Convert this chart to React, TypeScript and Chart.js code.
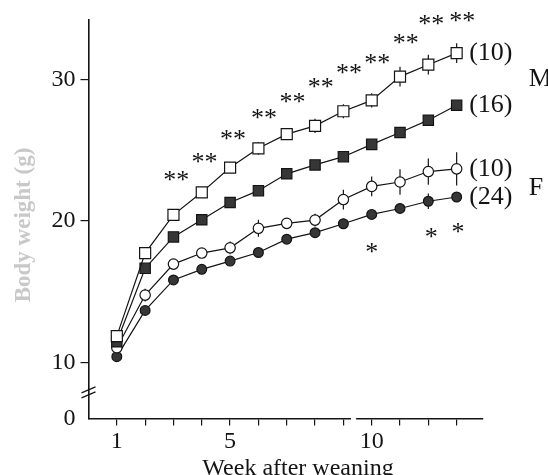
import React, { useEffect, useRef } from 'react';
import { Chart, registerables } from 'chart.js';

Chart.register(...registerables);

const weeks = [1, 2, 3, 4, 5, 6, 7, 8, 9, 10, 11, 12, 13];
const maleObese = [11.87, 17.74, 20.44, 22.03, 23.78, 25.14, 26.14, 26.73, 27.76, 28.53, 30.21, 31.05, 31.87];
const maleControl = [11.47, 16.66, 18.88, 20.09, 21.31, 22.15, 23.34, 23.97, 24.55, 25.42, 26.26, 27.13, 28.18];
const femaleObese = [11.05, 14.77, 16.96, 17.74, 18.11, 19.49, 19.84, 20.07, 21.52, 22.45, 22.76, 23.5, 23.69];
const femaleControl = [10.42, 13.69, 15.84, 16.59, 17.17, 17.78, 18.72, 19.18, 19.81, 20.47, 20.89, 21.4, 21.7];

const maleObeseSE = [0.2, 0.2, 0.2, 0.2, 0.3, 0.45, 0.4, 0.5, 0.5, 0.5, 0.7, 0.7, 0.7];
const maleControlSE = [0.2, 0.2, 0.2, 0.2, 0.2, 0.2, 0.2, 0.2, 0.2, 0.2, 0.2, 0.2, 0.2];
const femaleObeseSE = [0.2, 0.45, 0.3, 0.3, 0.45, 0.6, 0.3, 0.45, 0.7, 0.7, 0.9, 0.93, 1.17];
const femaleControlSE = [0.1, 0.1, 0.1, 0.1, 0.1, 0.1, 0.1, 0.1, 0.2, 0.2, 0.2, 0.55, 0.2];

const groupSizes = ['(10)', '(16)', '(10)', '(24)'];
const sexLabels = ['M', 'F'];
const sexLabelValues = [30.0, 22.3];

const doubleStarWeeks = [3.1, 4.1, 5.1, 6.2, 7.2, 8.2, 9.2, 10.2, 11.2, 12.1, 13.2];
const doubleStarValues = [23.1, 24.37, 26.03, 27.48, 28.6, 29.65, 30.67, 31.4, 32.78, 34.13, 34.37];
const singleStarWeeks = [10.0, 12.1, 13.05];
const singleStarValues = [18.02, 19.07, 19.46];

const yTickValues = [6.05, 10, 20, 30];
const yTickLabels = ['0', '10', '20', '30'];
const xTickValues = [1, 2, 3, 4, 5, 6, 7, 8, 9, 10, 11, 12, 13];
const xLabelledWeeks = [1, 5, 10];
const xAxisGap = [9.27, 9.45];
const yBreakValue = 7.9;

const xTitle = 'Week after weaning';
const yTitle = 'Body weight (g)';

const INK = '#141414';
const FILL = '#363636';
const SERIF = "'Liberation Serif', 'DejaVu Serif', serif";

export default function App() {
  const ref = useRef<HTMLCanvasElement | null>(null);

  useEffect(() => {
    if (!ref.current) return;
    const series = [
      { values: maleObese, se: maleObeseSE, style: 'rect', fill: '#ffffff', r: 7.8 },
      { values: maleControl, se: maleControlSE, style: 'rect', fill: FILL, r: 7.3 },
      { values: femaleObese, se: femaleObeseSE, style: 'circle', fill: '#ffffff', r: 5.2 },
      { values: femaleControl, se: femaleControlSE, style: 'circle', fill: FILL, r: 4.9 },
    ];

    const overlay = {
      id: 'overlay',
      beforeDatasetsDraw(chart: any) {
        const { ctx } = chart;
        const xs = chart.scales.x;
        const ys = chart.scales.y;
        ctx.save();
        ctx.strokeStyle = INK;
        ctx.lineWidth = 1.2;
        series.forEach((s) => {
          s.values.forEach((v, i) => {
            const px = xs.getPixelForValue(weeks[i]);
            ctx.beginPath();
            ctx.moveTo(px, ys.getPixelForValue(v - s.se[i]));
            ctx.lineTo(px, ys.getPixelForValue(v + s.se[i]));
            ctx.stroke();
          });
        });
        ctx.restore();
      },
      afterDraw(chart: any) {
        const { ctx } = chart;
        const xs = chart.scales.x;
        const ys = chart.scales.y;
        const area = chart.chartArea;
        ctx.save();

        // x-axis break gap
        ctx.fillStyle = '#ffffff';
        const g0 = xs.getPixelForValue(xAxisGap[0]);
        const g1 = xs.getPixelForValue(xAxisGap[1]);
        ctx.fillRect(g0, area.bottom - 3, g1 - g0, 6);

        // y-axis break marks
        const by = ys.getPixelForValue(yBreakValue);
        ctx.strokeStyle = INK;
        ctx.lineWidth = 1.3;
        [-2.5, 2.5].forEach((d) => {
          ctx.beginPath();
          ctx.moveTo(area.left - 7, by + d + 3);
          ctx.lineTo(area.left + 7, by + d - 3);
          ctx.stroke();
        });

        // asterisks
        ctx.fillStyle = INK;
        ctx.font = `26px ${SERIF}`;
        ctx.textAlign = 'center';
        ctx.textBaseline = 'middle';
        doubleStarWeeks.forEach((w, i) => {
          const px = xs.getPixelForValue(w);
          const py = ys.getPixelForValue(doubleStarValues[i]) + 4;
          ctx.fillText('*', px - 6.5, py);
          ctx.fillText('*', px + 6.5, py);
        });
        singleStarWeeks.forEach((w, i) => {
          ctx.fillText('*', xs.getPixelForValue(w), ys.getPixelForValue(singleStarValues[i]) + 4);
        });

        // group sizes
        ctx.font = `26px ${SERIF}`;
        ctx.textAlign = 'left';
        const lastX = xs.getPixelForValue(weeks[weeks.length - 1]);
        series.forEach((s, i) => {
          ctx.fillText(groupSizes[i], lastX + 12.5, ys.getPixelForValue(s.values[s.values.length - 1]));
        });
        sexLabels.forEach((t, i) => {
          ctx.fillText(t, lastX + 72, ys.getPixelForValue(sexLabelValues[i]));
        });

        // axis titles
        ctx.textAlign = 'center';
        ctx.textBaseline = 'alphabetic';
        ctx.font = `24px ${SERIF}`;
        ctx.fillText(xTitle, 298, 475);

        ctx.translate(24, 225);
        ctx.rotate(-Math.PI / 2);
        ctx.textBaseline = 'middle';
        ctx.fillStyle = '#c8c8c8';
        ctx.font = `bold 23px ${SERIF}`;
        ctx.fillText(yTitle, 0, 0);
        ctx.restore();
      },
    };

    const chart = new Chart(ref.current, {
      type: 'line',
      data: {
        datasets: series.map((s, k) => ({
          label: `s${k}`,
          data: weeks.map((w, i) => ({ x: w, y: s.values[i] })),
          borderColor: INK,
          borderWidth: 1.2,
          tension: 0,
          pointStyle: s.style as any,
          pointRadius: s.r,
          pointBackgroundColor: s.fill,
          pointBorderColor: INK,
          pointBorderWidth: 1.2,
        })),
      },
      options: {
        animation: false,
        responsive: false,
        devicePixelRatio: 1,
        layout: { padding: { top: 16.7, right: 65.3, left: 0, bottom: 0 } },
        plugins: { legend: { display: false }, tooltip: { enabled: false } },
        scales: {
          x: {
            type: 'linear',
            min: 0,
            max: 13.92,
            afterBuildTicks: (s: any) => {
              s.ticks = xTickValues.map((v) => ({ value: v }));
            },
            afterFit: (s: any) => {
              s.height = 56.5;
            },
            ticks: {
              autoSkip: false,
              maxRotation: 0,
              padding: 2,
              color: INK,
              font: { family: SERIF, size: 24 },
              callback: (v: any) => (xLabelledWeeks.includes(Number(v)) ? String(v) : ''),
            },
            grid: { drawOnChartArea: false, drawTicks: true, tickLength: 7, color: INK, lineWidth: 1.2 },
            border: { color: INK, width: 1.6 },
          },
          y: {
            type: 'linear',
            min: 6.05,
            max: 34.25,
            afterBuildTicks: (s: any) => {
              s.ticks = yTickValues.map((v) => ({ value: v }));
            },
            afterFit: (s: any) => {
              s.width = 88.5;
            },
            ticks: {
              autoSkip: false,
              padding: 5,
              color: INK,
              font: { family: SERIF, size: 24 },
              callback: (v: any) => {
                const i = yTickValues.indexOf(Number(v));
                return i >= 0 ? yTickLabels[i] : '';
              },
            },
            grid: {
              drawOnChartArea: false,
              drawTicks: true,
              tickLength: 8,
              lineWidth: 1.2,
              color: (c: any) => (c.tick && c.tick.value < 9 ? 'rgba(0,0,0,0)' : INK),
            },
            border: { color: INK, width: 1.6 },
          },
        },
      },
      plugins: [overlay],
    });
    return () => chart.destroy();
  }, []);

  return (
    <div style={{ position: 'absolute', left: 0, top: 0, width: 548, height: 475, background: '#fff' }}>
      <canvas ref={ref} width={548} height={475} />
    </div>
  );
}
